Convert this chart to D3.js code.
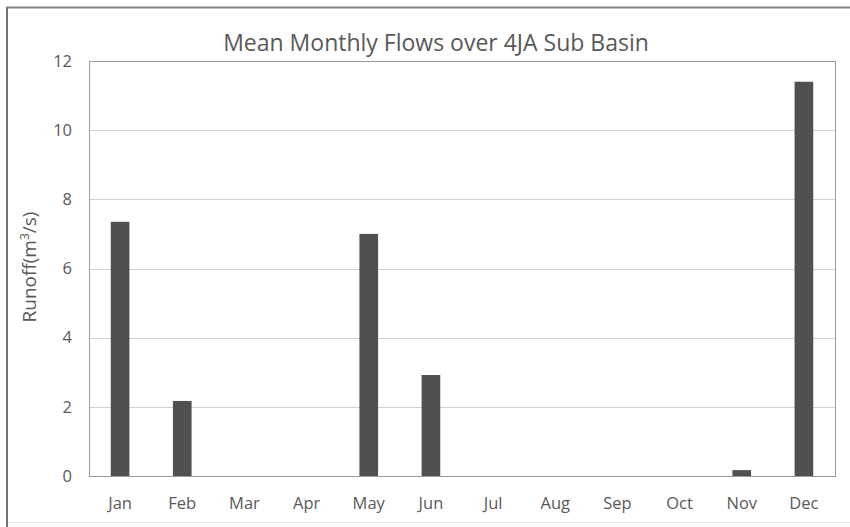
<!DOCTYPE html>
<html>
<head>
<meta charset="utf-8">
<script src="https://cdn.jsdelivr.net/npm/d3@7"></script>
<style>
  body { margin: 0; background: #fff; }
  svg { display: block; }
</style>
</head>
<body>
<svg id="chart" width="850" height="527"></svg>
<script>
const months = ["Jan", "Feb", "Mar", "Apr", "May", "Jun", "Jul", "Aug", "Sep", "Oct", "Nov", "Dec"];
const runoff = [7.35, 2.17, 0, 0, 7.0, 2.92, 0, 0, 0, 0, 0.17, 11.4];
const yTicks = [0, 2, 4, 6, 8, 10, 12];

const width = 850;
const height = 527;
const margin = { top: 61, right: 15, bottom: 51, left: 89 };
const font = "'Open Sans', sans-serif";
const textColor = "#595959";

const svg = d3.select("#chart");

// outer frame: dark on left/top, faint at bottom, right edge cut off
svg.append("line")
  .attr("x1", 7).attr("x2", 7).attr("y1", 7).attr("y2", height)
  .attr("stroke", "#707070").attr("stroke-width", 2);
svg.append("line")
  .attr("x1", 6).attr("x2", width).attr("y1", 7.5).attr("y2", 7.5)
  .attr("stroke", "#808080").attr("stroke-width", 2);
svg.append("line")
  .attr("x1", 8).attr("x2", width).attr("y1", 522.5).attr("y2", 522.5)
  .attr("stroke", "#e6e6e6");

const x = d3.scaleBand()
  .domain(months)
  .range([margin.left, width - margin.right])
  .paddingInner(0.7)
  .paddingOuter(0.35);

const y = d3.scaleLinear()
  .domain([0, 12])
  .range([height - margin.bottom, margin.top]);

// gridlines
svg.append("g")
  .selectAll("line")
  .data(yTicks)
  .join("line")
  .attr("x1", margin.left)
  .attr("x2", width - margin.right)
  .attr("y1", (d) => Math.round(y(d)) + 0.5)
  .attr("y2", (d) => Math.round(y(d)) + 0.5)
  .attr("stroke", "#d0d0d0");

// plot area border
svg.append("rect")
  .attr("x", margin.left + 0.5)
  .attr("y", margin.top + 0.5)
  .attr("width", width - margin.right - margin.left)
  .attr("height", height - margin.bottom - margin.top)
  .attr("fill", "none")
  .attr("stroke", "#9a9a9a");

// bars
svg.append("g")
  .selectAll("rect")
  .data(months.map((m, i) => ({ m, v: runoff[i] })))
  .join("rect")
  .attr("x", (d) => x(d.m))
  .attr("width", x.bandwidth())
  .attr("y", (d) => y(d.v))
  .attr("height", (d) => y(0) - y(d.v))
  .attr("fill", "#505050");

// y axis
const yAxis = svg.append("g")
  .attr("transform", `translate(${margin.left},0)`)
  .call(d3.axisLeft(y).tickValues(yTicks).tickSize(0).tickPadding(17));
yAxis.select(".domain").remove();
yAxis.selectAll("text")
  .attr("font-family", font)
  .attr("font-size", 16.5)
  .attr("fill", textColor);

// x axis
const xAxis = svg.append("g")
  .attr("transform", `translate(0,${height - margin.bottom})`)
  .call(d3.axisBottom(x).tickSize(0).tickPadding(21));
xAxis.select(".domain").remove();
xAxis.selectAll("text")
  .attr("font-family", font)
  .attr("font-size", 16.5)
  .attr("fill", textColor);

// title
svg.append("text")
  .attr("x", 436)
  .attr("y", 51)
  .attr("text-anchor", "middle")
  .attr("font-family", font)
  .attr("font-size", 23)
  .attr("fill", textColor)
  .text("Mean Monthly Flows over 4JA Sub Basin");

// y label
const yLabel = svg.append("text")
  .attr("transform", "translate(36,267) rotate(-90)")
  .attr("text-anchor", "middle")
  .attr("font-family", font)
  .attr("font-size", 19)
  .attr("fill", textColor);
yLabel.append("tspan").text("Runoff(m");
yLabel.append("tspan").attr("font-size", 12).attr("dy", -7).text("3");
yLabel.append("tspan").attr("dy", 7).text("/s)");
</script>
</body>
</html>
